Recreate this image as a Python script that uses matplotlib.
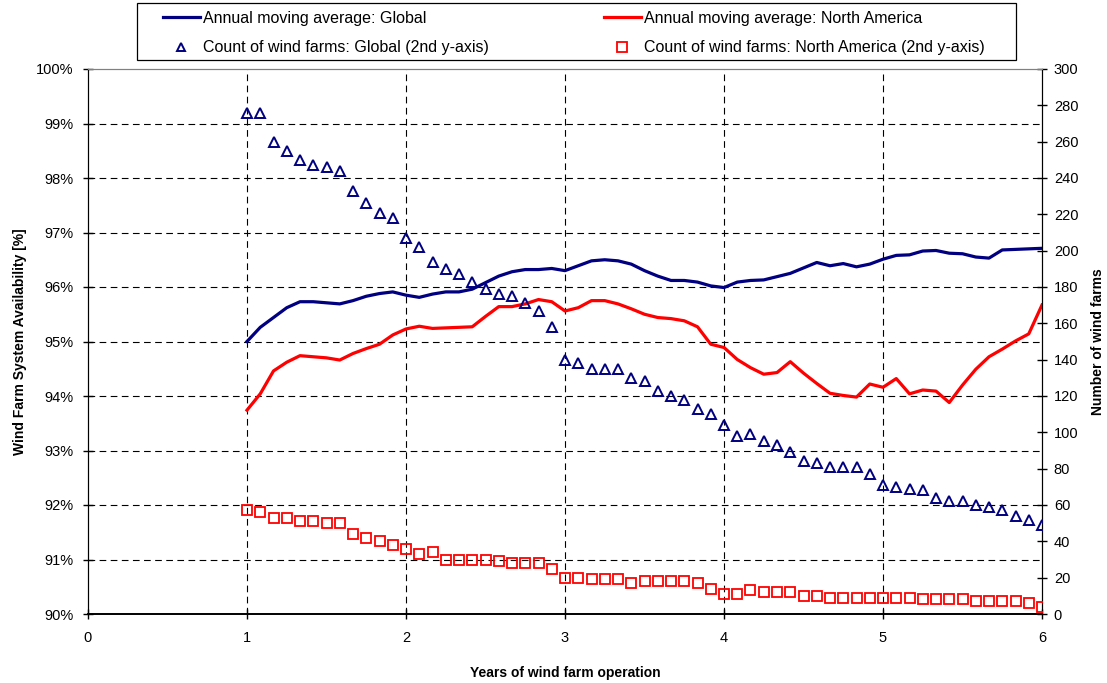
import matplotlib
matplotlib.use("Agg")
import matplotlib.pyplot as plt
from matplotlib.lines import Line2D
from matplotlib.patches import Rectangle

plt.rcParams['font.family'] = ['Liberation Sans', 'DejaVu Sans']

# Years of operation (monthly steps from 1 to 6)
years = [1 + i / 12 for i in range(61)]

global_avail = [
    95.00, 95.26, 95.44, 95.62, 95.73, 95.73, 95.71, 95.69, 95.75, 95.83, 95.88, 95.91,
    95.85, 95.81, 95.87, 95.91, 95.91, 95.96, 96.08, 96.20, 96.28, 96.32, 96.32, 96.34,
    96.30, 96.39, 96.48, 96.50, 96.48, 96.42, 96.30, 96.20, 96.12, 96.12, 96.09, 96.02,
    95.99, 96.09, 96.12, 96.13, 96.19, 96.25, 96.35, 96.45, 96.39, 96.43, 96.37, 96.42,
    96.51, 96.58, 96.59, 96.66, 96.67, 96.62, 96.61, 96.55, 96.53, 96.68, 96.69, 96.70,
    96.71,
]

na_avail = [
    93.74, 94.04, 94.46, 94.62, 94.74, 94.72, 94.70, 94.66, 94.78, 94.87, 94.95, 95.12,
    95.23, 95.28, 95.24, 95.25, 95.26, 95.27, 95.46, 95.64, 95.64, 95.69, 95.77, 95.73,
    95.56, 95.62, 95.75, 95.75, 95.69, 95.60, 95.50, 95.44, 95.42, 95.38, 95.27, 94.95,
    94.89, 94.67, 94.52, 94.40, 94.43, 94.63, 94.42, 94.23, 94.05, 94.01, 93.98, 94.22,
    94.16, 94.32, 94.04, 94.11, 94.09, 93.88, 94.20, 94.49, 94.72, 94.86, 95.01, 95.14,
    95.67,
]

global_count = [
    276, 276, 260, 255, 250, 247, 246, 244, 233, 226, 221, 218,
    207, 202, 194, 190, 187, 183, 179, 176, 175, 171, 167, 158,
    140, 138, 135, 135, 135, 130, 128, 123, 120, 118, 113, 110,
    104, 98, 99, 95, 93, 89, 84, 83, 81, 81, 81, 77,
    71, 70, 69, 68, 64, 62, 62, 60, 59, 57, 54, 52,
    49,
]

na_count = [
    57, 56, 53, 53, 51, 51, 50, 50, 44, 42, 40, 38,
    36, 33, 34, 30, 30, 30, 30, 29, 28, 28, 28, 25,
    20, 20, 19, 19, 19, 17, 18, 18, 18, 18, 17, 14,
    11, 11, 13, 12, 12, 12, 10, 10, 9, 9, 9, 9,
    9, 9, 9, 8, 8, 8, 8, 7, 7, 7, 7, 6,
    4,
]

x_ticks = [0, 1, 2, 3, 4, 5, 6]
left_ticks = [90, 91, 92, 93, 94, 95, 96, 97, 98, 99, 100]
right_ticks = list(range(0, 301, 20))

labels = [
    "Annual moving average: Global",
    "Count of wind farms: Global (2nd y-axis)",
    "Annual moving average: North America",
    "Count of wind farms: North America (2nd y-axis)",
]

NAVY = "#000080"
RED = "#FF0000"
W, H = 1107, 683

fig = plt.figure(figsize=(11.07, 6.83), dpi=100)
ax = fig.add_axes([88 / W, 1 - 614 / H, (1042 - 88) / W, (614 - 69) / H])
ax2 = ax.twinx()

ax.set_xlim(0, 6)
ax.set_ylim(90, 100)
ax2.set_ylim(0, 300)

# grid
for yv in left_ticks[1:-1]:
    ax.axhline(yv, color="black", lw=0.8, dashes=(6, 4), zorder=0.5)
for xv in x_ticks[1:-1]:
    ax.axvline(xv, color="black", lw=0.8, dashes=(6, 4), zorder=0.5)

ax.plot(years, global_avail, color=NAVY, lw=2.3, zorder=3)
ax.plot(years, na_avail, color=RED, lw=2.3, zorder=3)

ax2.plot(years, global_count, linestyle="none", marker="^", markersize=6.5,
         markerfacecolor="none", markeredgecolor=NAVY, markeredgewidth=1.4, zorder=3)
ax2.plot(years, na_count, linestyle="none", marker="s", markersize=7,
         markerfacecolor="none", markeredgecolor=RED, markeredgewidth=1.3, zorder=3)

ax.set_xticks(x_ticks)
ax.set_yticks(left_ticks)
ax.set_yticklabels([f"{v}%" for v in left_ticks])
ax2.set_yticks(right_ticks)

ax.tick_params(axis="y", direction="inout", length=7, width=1, labelsize=10.5, pad=7)
ax.tick_params(axis="x", direction="inout", length=7, width=1, labelsize=10.5, pad=9)
ax2.tick_params(axis="y", direction="inout", length=7, width=1, labelsize=10.5, pad=5)

for a in (ax, ax2):
    a.spines["top"].set_color("#808080")
    a.spines["left"].set_color("black")
    a.spines["right"].set_color("black")
    a.spines["bottom"].set_color("black")
    a.spines["bottom"].set_linewidth(1.2)

ax.set_ylabel("Wind Farm System Availability [%]", fontsize=10, fontweight="bold")
ax.yaxis.set_label_coords(-0.064, 0.5)
ax2.set_ylabel("Number of wind farms", fontsize=10, fontweight="bold")
ax2.yaxis.set_label_coords(1.051, 0.5)
ax.set_xlabel("Years of wind farm operation", fontsize=10, fontweight="bold")
ax.xaxis.set_label_coords(0.5, -0.095)

handles = [
    Line2D([], [], color=NAVY, lw=2.3),
    Line2D([], [], linestyle="none", marker="^", markersize=6, markerfacecolor="none",
           markeredgecolor=NAVY, markeredgewidth=1.4),
    Line2D([], [], color=RED, lw=2.3),
    Line2D([], [], linestyle="none", marker="s", markersize=6.5, markerfacecolor="none",
           markeredgecolor=RED, markeredgewidth=1.3),
]
leg = fig.legend(handles, labels, ncol=2, loc="upper left",
                 bbox_to_anchor=(163 / W, 1 - 11 / H), frameon=False,
                 fontsize=11.5, handlelength=2.3, handletextpad=0.2,
                 columnspacing=7.2, labelspacing=0.9, borderpad=0, borderaxespad=0)

# legend frame
fig.patches.append(Rectangle((137 / W, 1 - 60 / H), (1016 - 137) / W, (60 - 3) / H,
                             transform=fig.transFigure, fill=False,
                             edgecolor="black", linewidth=0.9, zorder=0))

fig.savefig("out.png", dpi=100)
